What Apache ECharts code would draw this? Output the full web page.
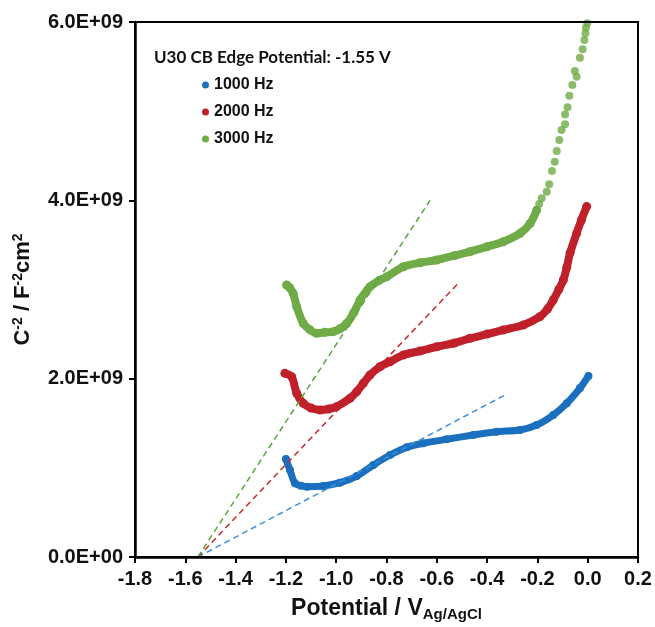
<!DOCTYPE html>
<html>
<head>
<meta charset="utf-8">
<script src="https://cdn.jsdelivr.net/npm/echarts@6/dist/echarts.min.js"></script>
<style>
html,body{margin:0;padding:0;background:#fff}
#wrap{position:relative;width:655px;height:627px}
#c{width:655px;height:627px}
#frame{position:absolute;left:134px;top:21px;width:505px;height:537px;box-sizing:border-box;border:2px solid #000;pointer-events:none}
</style>
</head>
<body>
<div id="wrap"><div id="c"></div><div id="frame"></div></div>
<script>
// Potential (V) vs C^-2 (units of 1E9 F^-2 cm^4)
const blue1000 = [
  [-1.200,1.099],[-1.184,0.976],[-1.164,0.826],[-1.140,0.800],[-1.117,0.789],
  [-1.051,0.796],[-0.985,0.833],[-0.918,0.908],[-0.852,1.032],[-0.786,1.144],
  [-0.720,1.230],[-0.654,1.275],[-0.561,1.320],[-0.455,1.368],[-0.362,1.405],
  [-0.269,1.424],[-0.203,1.480],[-0.137,1.592],[-0.083,1.724],[-0.031,1.892],[0.003,2.030]
];
const red2000 = [
  [-1.204,2.060],[-1.177,2.022],[-1.157,1.836],[-1.131,1.724],[-1.100,1.670],
  [-1.064,1.649],[-1.030,1.660],[-0.998,1.686],[-0.945,1.780],[-0.918,1.854],
  [-0.892,1.948],[-0.866,2.040],[-0.826,2.134],[-0.786,2.190],[-0.733,2.265],
  [-0.667,2.310],[-0.600,2.358],[-0.530,2.400],[-0.468,2.452],[-0.400,2.500],
  [-0.336,2.546],[-0.256,2.602],[-0.190,2.695],[-0.160,2.780],[-0.137,2.882],
  [-0.115,3.000],[-0.097,3.106],[-0.083,3.250],[-0.070,3.410],[-0.044,3.630],
  [-0.025,3.780],[-0.004,3.930]
];
const green3000 = [
  [-1.197,3.050],[-1.185,3.020],[-1.171,2.957],[-1.157,2.807],[-1.131,2.620],
  [-1.105,2.550],[-1.078,2.509],[-1.045,2.520],[-1.011,2.527],[-0.985,2.560],
  [-0.958,2.620],[-0.930,2.740],[-0.905,2.882],[-0.866,3.030],[-0.830,3.100],
  [-0.799,3.143],[-0.733,3.255],[-0.667,3.300],[-0.600,3.331],[-0.530,3.380],
  [-0.468,3.424],[-0.400,3.480],[-0.336,3.536],[-0.269,3.630],[-0.229,3.740],[-0.203,3.890]
];
const green3000Tail = [
  [-0.193,3.960],[-0.183,4.022],[-0.163,4.097],[-0.153,4.179],[-0.142,4.329],[-0.131,4.433],
  [-0.123,4.553],[-0.113,4.676],[-0.104,4.789],[-0.090,4.852],[-0.090,4.964],
  [-0.080,5.043],[-0.073,5.174],[-0.061,5.293],[-0.044,5.387],[-0.051,5.450],
  [-0.031,5.600],[-0.020,5.693],[-0.013,5.798],[-0.009,5.873],[-0.007,5.936],[-0.002,5.985]
];
const fit1000 = [[-1.55,0],[-0.323,1.825]];
const fit2000 = [[-1.55,0],[-0.518,3.060]];
const fit3000 = [[-1.55,0],[-0.627,4.000]];
const xTicks = {min:-1.8, max:0.2, step:0.2};
const yTicks = {min:0, max:6, step:2};
const seriesNames = ['1000 Hz','2000 Hz','3000 Hz'];
const titleText = 'U30 CB Edge Potential: -1.55 V';

const C = {blue:'#1a6fbf', red:'#c0202a', green:'#6fab46',
           blueFit:'#3d8fdc', redFit:'#c8262e', greenFit:'#55a83c'};
const scale = d => d.map(p => [p[0], p[1]*1e9]);
const bandSeries = (name, data, color, w) => ({
  name, type:'line', data: scale(data), smooth:0.3,
  symbol:'circle', symbolSize:w+1, showSymbol:true,
  itemStyle:{color}, lineStyle:{color, width:w, cap:'round', join:'round'},
  z:2, silent:true, animation:false
});
const fitSeries = (data, color) => ({
  type:'line', data: scale(data), symbol:'none',
  lineStyle:{color, width:1.5, type:[6,4]}, z:5, silent:true, animation:false
});
const FONT = 'Liberation Sans';

const chart = echarts.init(document.getElementById('c'));
chart.setOption({
  animation:false,
  grid:{left:135, right:17, top:22, bottom:70, show:true, borderColor:'#000', borderWidth:2},
  title:{text:titleText, left:149, top:44,
    textStyle:{fontFamily:'Lato', fontWeight:'bold', fontSize:17, color:'#111'}},
  legend:{data:seriesNames, orient:'vertical', left:197, top:72, itemGap:11,
    icon:'circle', itemWidth:7, itemHeight:7, selectedMode:false,
    textStyle:{fontFamily:FONT, fontWeight:'bold', fontSize:16, color:'#111'}},
  xAxis:{type:'value', min:xTicks.min, max:xTicks.max, interval:xTicks.step,
    axisLine:{onZero:false, lineStyle:{color:'#000', width:2.5}},
    axisTick:{show:true, inside:false, length:6, lineStyle:{color:'#000', width:2}},
    splitLine:{show:false},
    axisLabel:{margin:12, color:'#111', fontFamily:FONT, fontWeight:'bold', fontSize:20,
      formatter:v => (Math.abs(v)<1e-9?0:v).toFixed(1)},
    name:'Potential / V{sub|Ag/AgCl}', nameLocation:'middle', nameGap:38,
    nameTextStyle:{color:'#111', fontFamily:FONT, fontWeight:'bold', fontSize:23,
      rich:{sub:{fontFamily:FONT, fontWeight:'bold', fontSize:15, color:'#111', padding:[12,0,0,0]}}}
  },
  yAxis:{type:'value', min:yTicks.min*1e9, max:yTicks.max*1e9, interval:yTicks.step*1e9,
    axisLine:{onZero:false, lineStyle:{color:'#000', width:2.5}},
    axisTick:{show:true, inside:false, length:6, lineStyle:{color:'#000', width:2}},
    splitLine:{show:false},
    axisLabel:{margin:12, color:'#111', fontFamily:FONT, fontWeight:'bold', fontSize:20,
      formatter:v => v===0 ? '0.0E+00' : (v/1e9).toFixed(1)+'E+09'},
    name:'C{sup|-2} / F{sup|-2}cm{sup|2}', nameLocation:'middle', nameGap:100, nameRotate:90,
    nameTextStyle:{color:'#111', fontFamily:FONT, fontWeight:'bold', fontSize:22,
      rich:{sup:{fontFamily:FONT, fontWeight:'bold', fontSize:14, color:'#111', padding:[0,0,10,0]}}}
  },
  series:[
    bandSeries(seriesNames[0], blue1000, C.blue, 7),
    bandSeries(seriesNames[1], red2000, C.red, 8),
    bandSeries(seriesNames[2], green3000, C.green, 8),
    {name:seriesNames[2], type:'scatter', data:scale(green3000Tail), symbol:'circle', symbolSize:8,
      itemStyle:{color:C.green}, z:2, silent:true, animation:false},
    fitSeries(fit1000, C.blueFit),
    fitSeries(fit2000, C.redFit),
    fitSeries(fit3000, C.greenFit)
  ]
});
</script>
</body>
</html>
